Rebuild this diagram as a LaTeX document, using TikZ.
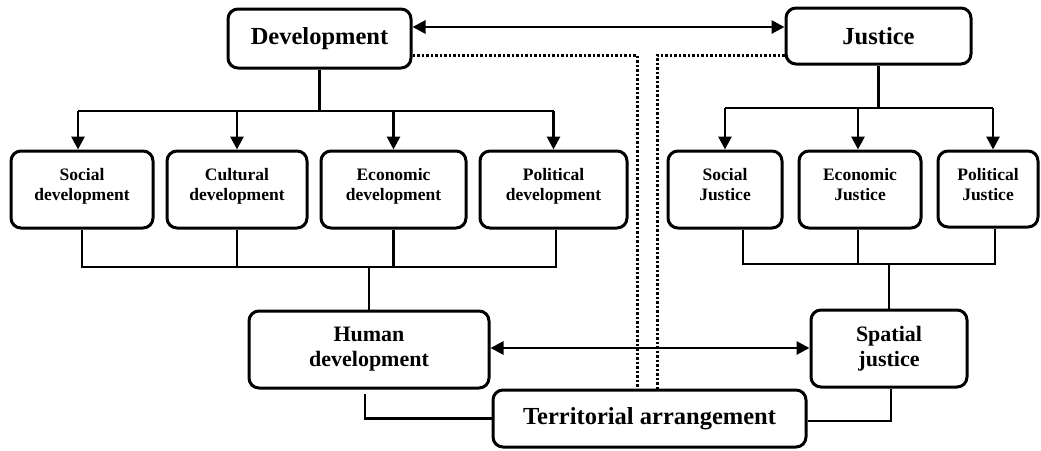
\documentclass[tikz,border=0pt]{standalone}
\usepackage{fontspec}
\setmainfont{Liberation Serif}
\usetikzlibrary{arrows.meta,calc}
\newcommand\upby[2]{\raisebox{#1}[\height][\depth]{\begin{tabular}{@{}c@{}}#2\end{tabular}}}
\begin{document}
\begin{tikzpicture}[x=1pt,y=-1pt,
  box/.style={draw,line width=3pt,rounded corners=10pt,inner sep=0pt,align=center},
  big/.style={box,font=\fontsize{24.5}{28}\selectfont\bfseries},
  mid/.style={box,font=\fontsize{22}{25}\selectfont\bfseries},
  small/.style={box,font=\fontsize{17.5}{20}\selectfont\bfseries},
  ln/.style={line width=2.8pt},
  arr/.style={ln,-{Triangle[length=13pt,width=13pt]}},
  darr/.style={ln,{Triangle[length=13pt,width=13pt]}-{Triangle[length=13pt,width=13pt]}},
  dot/.style={line width=3pt,dash pattern=on 2.5pt off 2pt}]
\useasboundingbox[fill=white] (0,0) rectangle (1041,450);
% main nodes
\node[big,minimum width=183pt,minimum height=59pt] (dev) at (319.5,38.5) {Development};
\node[big,minimum width=185pt,minimum height=56pt] (jus) at (878.5,36) {Justice};
\node[small,minimum width=142pt,minimum height=77pt] (sd) at (82,189.5) {\upby{3pt}{Social\\development}};
\node[small,minimum width=140pt,minimum height=77pt] (cd) at (237,189.5) {\upby{3pt}{Cultural\\development}};
\node[small,minimum width=145pt,minimum height=77pt] (ed) at (393.5,189.5) {\upby{3pt}{Economic\\development}};
\node[small,minimum width=147pt,minimum height=77pt] (pd) at (553.5,189.5) {\upby{3pt}{Political\\development}};
\node[small,minimum width=114pt,minimum height=77pt] (sj) at (725,189.5) {\upby{3pt}{Social\\Justice}};
\node[small,minimum width=122pt,minimum height=77pt] (ej) at (860,189.5) {\upby{3pt}{Economic\\Justice}};
\node[small,minimum width=100pt,minimum height=76pt] (pj) at (988,189) {\upby{3pt}{Political\\Justice}};
\node[mid,minimum width=240pt,minimum height=77pt] (hd) at (369,349.5) {Human\\development};
\node[mid,minimum width=156pt,minimum height=77pt] (spj) at (889,348.5) {Spatial\\justice};
\node[big,minimum width=313pt,minimum height=57pt] (ta) at (649.5,418.5) {Territorial arrangement};
% top double arrow
\draw[darr] (dev.east |- 0,27) -- (jus.west |- 0,27);
% dotted lines
\draw[dot] (dev.east |- 0,55) -| (637,0 |- ta.north);
\draw[dot] (jus.west |- 0,55) -| (657,0 |- ta.north);
% development tree
\draw[ln] (dev.south) -- (dev.south |- 0,111);
\draw[ln] (78,111) -- (pd.north |- 0,111);
\draw[arr] (78,111) -- (78,0 |- sd.north);
\draw[arr] (cd.north |- 0,111) -- (cd.north);
\draw[arr] (ed.north |- 0,111) -- (ed.north);
\draw[arr] (pd.north |- 0,111) -- (pd.north);
% justice tree
\draw[ln] (jus.south) -- (jus.south |- 0,108);
\draw[ln] (sj.north |- 0,108) -- (993,108);
\draw[arr] (sj.north |- 0,108) -- (sj.north);
\draw[arr] (858,108) -- (858,0 |- ej.north);
\draw[arr] (993,108) -- (993,0 |- pj.north);
% lower development tree
\draw[ln] (sd.south) -- (sd.south |- 0,267) -- (556,267) -- (556,0 |- pd.south);
\draw[ln] (cd.south) -- (cd.south |- 0,267);
\draw[ln] (ed.south) -- (ed.south |- 0,267);
\draw[ln] (hd.north) -- (hd.north |- 0,267);
% lower justice tree
\draw[ln] (743,0 |- sj.south) -- (743,264) -- (995,264) -- (995,0 |- pj.south);
\draw[ln] (858,0 |- ej.south) -- (858,264);
\draw[ln] (spj.north) -- (spj.north |- 0,264);
% human dev <-> spatial justice
\draw[darr] (hd.east |- 0,348) -- (spj.west |- 0,348);
% bottom connectors
\draw[ln] ($(hd.south)+(-4,4)$) |- (ta.west);
\draw[ln] ($(spj.south)+(2,0)$) |- (ta.east |- 0,421);
\end{tikzpicture}
\end{document}
